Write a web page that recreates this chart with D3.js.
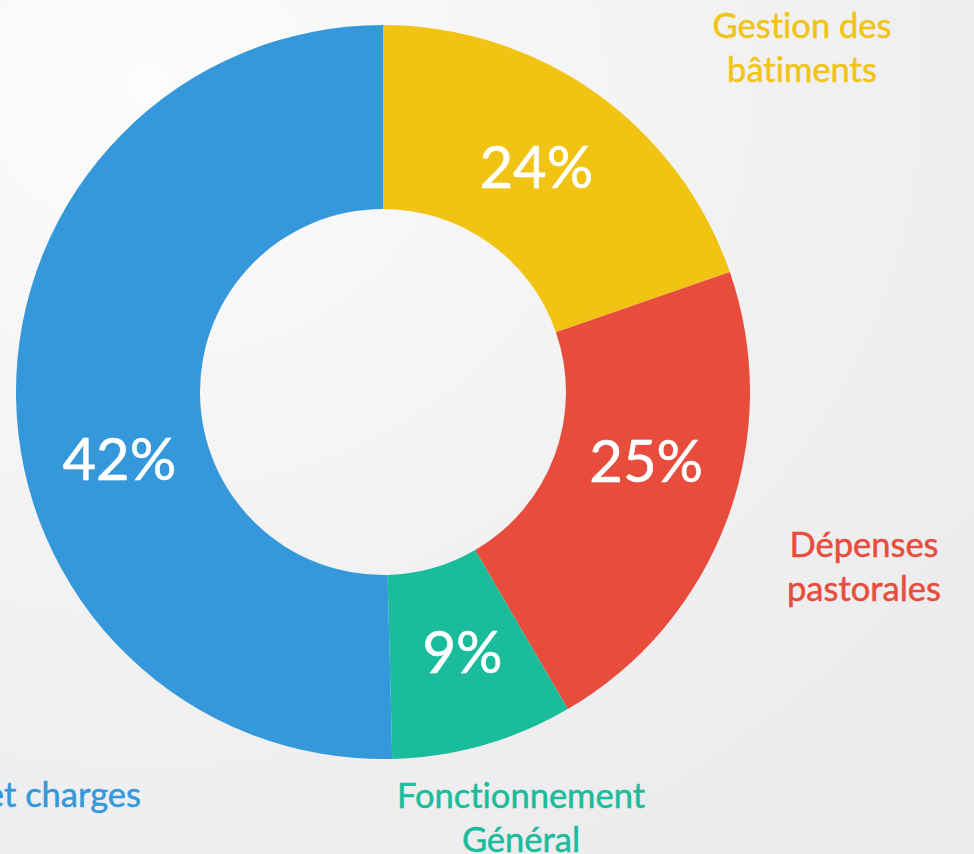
<!DOCTYPE html>
<html lang="fr">
<head>
  <meta charset="UTF-8">
  <title>Répartition des dépenses</title>
  <script src="https://cdn.jsdelivr.net/npm/d3@7"></script>
  <style>
    html, body {
      margin: 0;
      padding: 0;
      width: 974px;
      height: 854px;
      overflow: hidden;
      background: #f1f1f2;
    }
    svg { display: block; }
    text {
      font-family: Lato, "Open Sans", sans-serif;
      font-variant-ligatures: none;
    }
  </style>
</head>
<body>
  <svg id="chart" width="974" height="854"></svg>
  <script>
    // slices clockwise from 12 o'clock
    const categories = ['Gestion des bâtiments', 'Dépenses pastorales', 'Fonctionnement Général', 'Salaires et charges'];
    // angular share as drawn in the picture
    const shares = [19.7, 21.9, 8.0, 50.4];
    // percentages printed on the slices
    const pctLabels = ['24%', '25%', '9%', '42%'];
    const colors = ['#f1c413', '#e74c3c', '#1abc9c', '#3498db'];

    const width = 974, height = 854;
    const cx = 383, cy = 392;
    const outerR = 367, innerR = 183;

    const svg = d3.select('#chart');

    const defs = svg.append('defs');
    const grad = defs.append('radialGradient')
      .attr('id', 'bg')
      .attr('cx', '0.15').attr('cy', '0.1').attr('r', '1.1');
    grad.append('stop').attr('offset', '0').attr('stop-color', '#fcfcfc');
    grad.append('stop').attr('offset', '0.6').attr('stop-color', '#f1f1f2');
    grad.append('stop').attr('offset', '1').attr('stop-color', '#ebebed');

    svg.append('rect')
      .attr('width', width)
      .attr('height', height)
      .attr('fill', 'url(#bg)');

    const pie = d3.pie().sort(null).value(d => d);
    const arcs = pie(shares);

    const arc = d3.arc().innerRadius(innerR).outerRadius(outerR);
    const labelArc = d3.arc().innerRadius(272).outerRadius(272);

    const g = svg.append('g').attr('transform', `translate(${cx},${cy})`);

    g.selectAll('path')
      .data(arcs)
      .join('path')
      .attr('d', arc)
      .attr('fill', (d, i) => colors[i]);

    // small angular nudge so the labels sit where the original put them
    const nudge = [-0.02, -0.1, -0.02, -0.235];

    g.selectAll('text.pct')
      .data(arcs)
      .join('text')
      .attr('class', 'pct')
      .attr('transform', (d, i) => {
        const a = (d.startAngle + d.endAngle) / 2 + nudge[i];
        const [x, y] = labelArc.centroid({startAngle: a, endAngle: a});
        return `translate(${x},${y})`;
      })
      .attr('text-anchor', 'middle')
      .attr('dy', '0.36em')
      .attr('fill', '#fff')
      .attr('stroke', '#fff')
      .attr('stroke-width', 0.6)
      .attr('font-size', 58)
      .text((d, i) => pctLabels[i]);

    // category labels around the ring
    const outside = [
      {lines: ['Gestion des', 'bâtiments'], x: 802, y: 38, anchor: 'middle'},
      {lines: ['Dépenses', 'pastorales'], x: 864, y: 557, anchor: 'middle'},
      {lines: ['Fonctionnement', 'Général'], x: 521, y: 808, anchor: 'middle'},
      {lines: ['Salaires et charges'], x: 141, y: 807, anchor: 'end'}
    ];

    outside.forEach((o, i) => {
      const t = svg.append('text')
        .attr('x', o.x)
        .attr('y', o.y)
        .attr('text-anchor', o.anchor)
        .attr('fill', colors[i])
        .attr('stroke', colors[i])
        .attr('stroke-width', 0.5)
        .attr('font-size', 34.5);
      o.lines.forEach((l, j) => {
        t.append('tspan')
          .attr('x', o.x)
          .attr('dy', j === 0 ? 0 : 44)
          .text(l);
      });
    });
  </script>
</body>
</html>
